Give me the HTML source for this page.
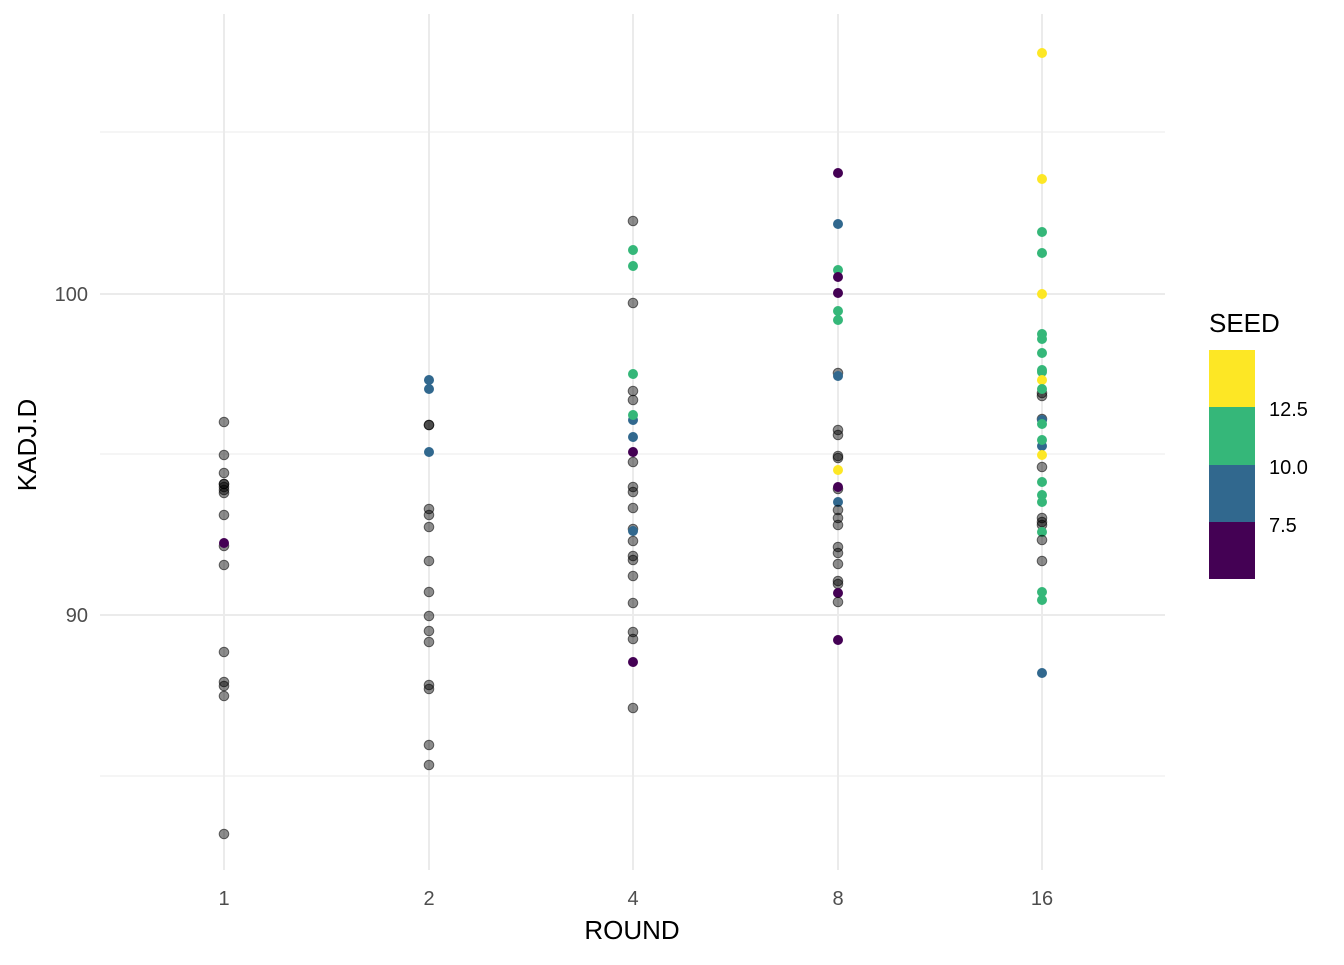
<!DOCTYPE html>
<html><head><meta charset="utf-8"><style>body{margin:0;background:#fff}</style></head><body>
<svg width="1344" height="960" xmlns="http://www.w3.org/2000/svg" font-family="Liberation Sans, sans-serif">
<rect width="1344" height="960" fill="#fff"/>
<g stroke="#ebebeb" stroke-width="1">
<line x1="100" x2="1165" y1="132" y2="132"/><line x1="100" x2="1165" y1="454" y2="454"/><line x1="100" x2="1165" y1="776" y2="776"/>
</g>
<g stroke="#ebebeb" stroke-width="2">
<line x1="100" x2="1165" y1="294" y2="294"/><line x1="100" x2="1165" y1="615" y2="615"/>
<line x1="224" x2="224" y1="14" y2="870"/><line x1="429" x2="429" y1="14" y2="870"/><line x1="633" x2="633" y1="14" y2="870"/><line x1="838" x2="838" y1="14" y2="870"/><line x1="1042" x2="1042" y1="14" y2="870"/>
</g>
<g id="pts"></g>
<g font-size="20" fill="#4d4d4d">
<text x="88" y="301" text-anchor="end">100</text><text x="88" y="622" text-anchor="end">90</text>
<text x="224" y="905" text-anchor="middle">1</text><text x="429" y="905" text-anchor="middle">2</text><text x="633" y="905" text-anchor="middle">4</text><text x="838" y="905" text-anchor="middle">8</text><text x="1042" y="905" text-anchor="middle">16</text>
</g>
<text x="632" y="939" font-size="26" text-anchor="middle" fill="#000">ROUND</text>
<text transform="translate(36,445) rotate(-90)" font-size="26" text-anchor="middle" fill="#000">KADJ.D</text>
<text x="1209" y="332" font-size="26" fill="#000">SEED</text>
<rect x="1209" y="350" width="46" height="58" fill="#FDE725"/>
<rect x="1209" y="407" width="46" height="58" fill="#35B779"/>
<rect x="1209" y="465" width="46" height="58" fill="#31688E"/>
<rect x="1209" y="522" width="46" height="57" fill="#440154"/>
<g font-size="20" fill="#000"><text x="1269" y="416">12.5</text><text x="1269" y="474">10.0</text><text x="1269" y="532">7.5</text></g>
</svg>
<script>
var C={g:null,p:"#440154",b:"#31688E",n:"#35B779",y:"#FDE725"};
var d={224:"g422 g455 g473 g484 g484 g487 g490 g493 g515 g546 p543 g565 g652 g682 g686 g696 g834",
429:"b380 b389 g425 g425 b452 g509 g515 g527 g561 g592 g616 g631 g642 g685 g689 g745 g765",
633:"g221 n250 n266 g303 n374 g391 g400 b420 n415 b437 p452 g462 g487 g492 g508 g529 b531 g541 g556 g560 g576 g603 g632 g639 p662 g708",
838:"p173 b224 n270 p277 p293 n311 n320 g373 b376 g430 g435 g456 g458 y470 g489 p487 b502 g510 g518 g525 g547 g553 g564 g581 g584 p593 g602 p640",
1042:"y53 y179 n232 n253 y294 n334 n339 n353 n370 n372 y380 g393 g396 n389 g419 b420 n424 b446 n440 y455 g467 n482 n495 n502 g518 g522 g525 n532 g540 g561 n592 n600 b673"};
var s="";for(var x in d){d[x].split(" ").forEach(function(t){var c=t[0],y=+t.slice(1);
if(c=="g")s+='<circle cx="'+x+'" cy="'+y+'" r="4.8" fill="rgba(0,0,0,0.45)" stroke="rgba(0,0,0,0.55)" stroke-width="1"/>';
else s+='<circle cx="'+x+'" cy="'+y+'" r="5" fill="'+C[c]+'"/>';});}
document.getElementById("pts").innerHTML=s;
</script>
</body></html>
